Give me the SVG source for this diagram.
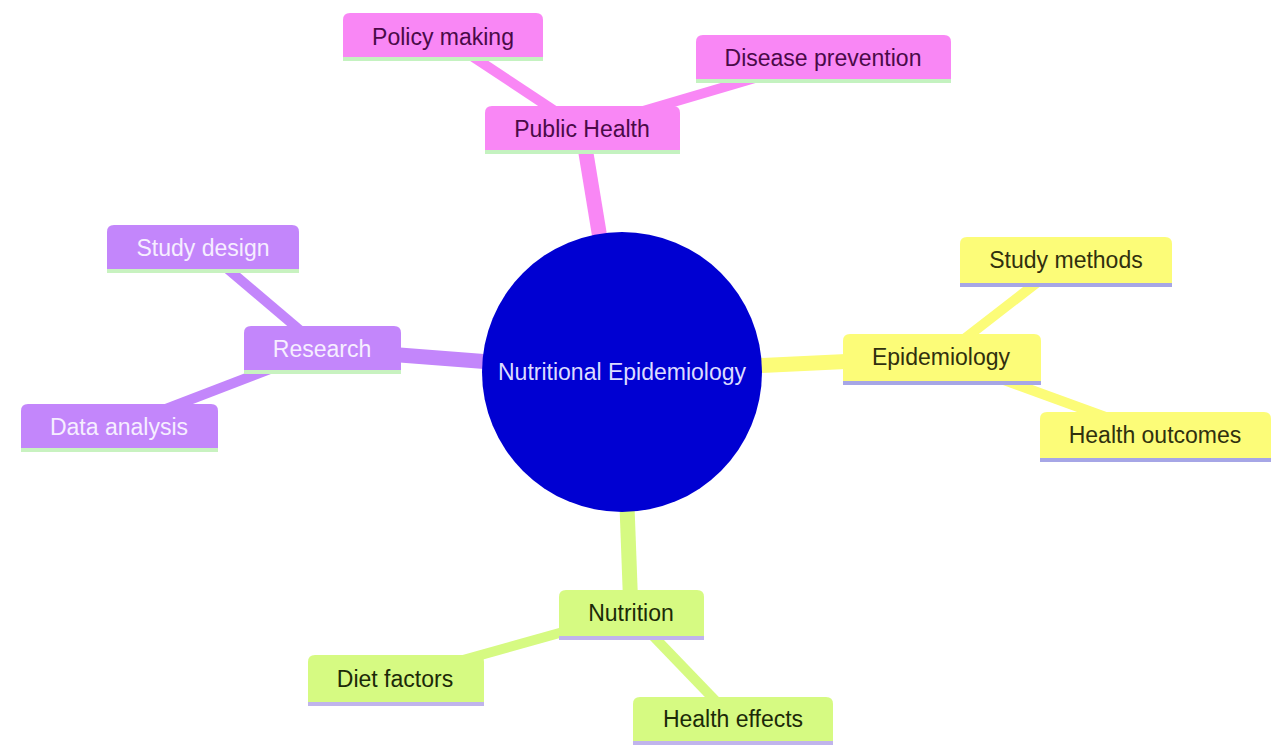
<svg xmlns="http://www.w3.org/2000/svg" width="1274" height="745" viewBox="0 0 1274 745">
<style>
text{font-family:"Liberation Sans",Arial,sans-serif;font-size:23px;text-anchor:middle}
.e0{stroke-width:15;fill:none;stroke-linecap:butt}
.e1{stroke-width:10;fill:none;stroke-linecap:butt}
.pk{fill:#f987f5}.pkE{stroke:#f987f5}.pkT{fill:#4a0a48}.pkL{stroke:#c4f2c0}
.pu{fill:#c386fb}.puE{stroke:#c386fb}.puT{fill:#f6eeff}.puL{stroke:#c8f2c0}
.ye{fill:#fcfc78}.yeE{stroke:#fcfc78}.yeT{fill:#30300e}.yeL{stroke:#a6a6e6}
.gr{fill:#d6fa82}.grE{stroke:#d6fa82}.grT{fill:#1c2a08}.grL{stroke:#c0b4ec}
.ln{stroke-width:4}
</style>
<rect width="1274" height="745" fill="#ffffff"/>
<g id="connectors">
<line class="e0 pkE" x1="622" y1="372" x2="582" y2="129"/>
<line class="e1 pkE" x1="582" y1="129" x2="443" y2="37"/>
<line class="e1 pkE" x1="582" y1="129" x2="823" y2="58"/>
<line class="e0 puE" x1="622" y1="372" x2="322" y2="349"/>
<line class="e1 puE" x1="322" y1="349" x2="203" y2="248"/>
<line class="e1 puE" x1="322" y1="349" x2="119" y2="427"/>
<line class="e0 yeE" x1="622" y1="372" x2="941" y2="357"/>
<line class="e1 yeE" x1="941" y1="357" x2="1066" y2="260"/>
<line class="e1 yeE" x1="941" y1="357" x2="1155" y2="435"/>
<line class="e0 grE" x1="622" y1="372" x2="631" y2="613"/>
<line class="e1 grE" x1="631" y1="613" x2="395" y2="679"/>
<line class="e1 grE" x1="631" y1="613" x2="733" y2="719"/>
</g>
<g id="root">
<circle cx="622" cy="372" r="140" fill="#0000d2"/>
<text x="622" y="380" fill="#dcdcff">Nutritional Epidemiology</text>
</g>
<g id="public-health">
<path class="pk" d="M485 151 V113 q0 -7 7 -7 H673 q7 0 7 7 V151 Z"/>
<line class="ln pkL" x1="485" y1="152" x2="680" y2="152"/>
<text class="pkT" x="582" y="137">Public Health</text>
</g>
<g id="policy-making">
<path class="pk" d="M343 58 V20 q0 -7 7 -7 H536 q7 0 7 7 V58 Z"/>
<line class="ln pkL" x1="343" y1="59" x2="543" y2="59"/>
<text class="pkT" x="443" y="45">Policy making</text>
</g>
<g id="disease-prevention">
<path class="pk" d="M696 80 V42 q0 -7 7 -7 H944 q7 0 7 7 V80 Z"/>
<line class="ln pkL" x1="696" y1="81" x2="951" y2="81"/>
<text class="pkT" x="823" y="66">Disease prevention</text>
</g>
<g id="research">
<path class="pu" d="M244 371 V333 q0 -7 7 -7 H394 q7 0 7 7 V371 Z"/>
<line class="ln puL" x1="244" y1="372" x2="401" y2="372"/>
<text class="puT" x="322" y="357">Research</text>
</g>
<g id="study-design">
<path class="pu" d="M107 270 V232 q0 -7 7 -7 H292 q7 0 7 7 V270 Z"/>
<line class="ln puL" x1="107" y1="271" x2="299" y2="271"/>
<text class="puT" x="203" y="256">Study design</text>
</g>
<g id="data-analysis">
<path class="pu" d="M21 449 V411 q0 -7 7 -7 H211 q7 0 7 7 V449 Z"/>
<line class="ln puL" x1="21" y1="450" x2="218" y2="450"/>
<text class="puT" x="119" y="435">Data analysis</text>
</g>
<g id="epidemiology">
<path class="ye" d="M843 381 V341 q0 -7 7 -7 H1034 q7 0 7 7 V381 Z"/>
<line class="ln yeL" x1="843" y1="383" x2="1041" y2="383"/>
<text class="yeT" x="941" y="365">Epidemiology</text>
</g>
<g id="study-methods">
<path class="ye" d="M960 283 V244 q0 -7 7 -7 H1165 q7 0 7 7 V283 Z"/>
<line class="ln yeL" x1="960" y1="285" x2="1172" y2="285"/>
<text class="yeT" x="1066" y="268">Study methods</text>
</g>
<g id="health-outcomes">
<path class="ye" d="M1040 458 V419 q0 -7 7 -7 H1264 q7 0 7 7 V458 Z"/>
<line class="ln yeL" x1="1040" y1="460" x2="1271" y2="460"/>
<text class="yeT" x="1155" y="443">Health outcomes</text>
</g>
<g id="nutrition">
<path class="gr" d="M559 636 V597 q0 -7 7 -7 H697 q7 0 7 7 V636 Z"/>
<line class="ln grL" x1="559" y1="638" x2="704" y2="638"/>
<text class="grT" x="631" y="621">Nutrition</text>
</g>
<g id="diet-factors">
<path class="gr" d="M308 702 V662 q0 -7 7 -7 H477 q7 0 7 7 V702 Z"/>
<line class="ln grL" x1="308" y1="704" x2="484" y2="704"/>
<text class="grT" x="395" y="687">Diet factors</text>
</g>
<g id="health-effects">
<path class="gr" d="M633 741 V704 q0 -7 7 -7 H826 q7 0 7 7 V741 Z"/>
<line class="ln grL" x1="633" y1="743" x2="833" y2="743"/>
<text class="grT" x="733" y="727">Health effects</text>
</g>
</svg>
